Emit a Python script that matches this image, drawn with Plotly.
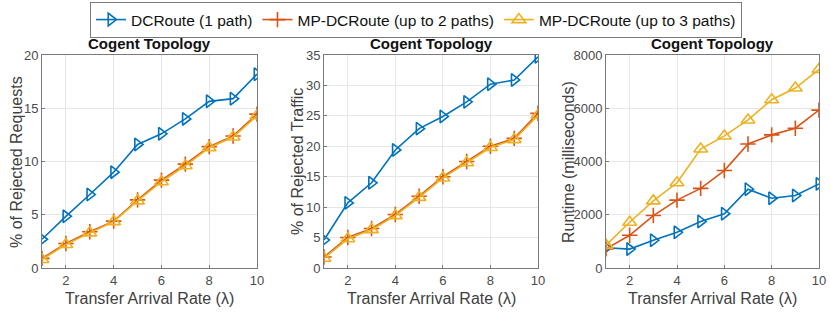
import plotly.graph_objects as go

x = [1, 2, 3, 4, 5, 6, 7, 8, 9, 10]
series_names = ["DCRoute (1 path)", "MP-DCRoute (up to 2 paths)", "MP-DCRoute (up to 3 paths)"]

req_1 = [2.7, 4.85, 6.9, 9.0, 11.6, 12.6, 14.0, 15.65, 15.9, 18.2]
req_2 = [0.9, 2.3, 3.4, 4.4, 6.4, 8.25, 9.75, 11.4, 12.4, 14.45]
req_3 = [0.8, 2.2, 3.3, 4.35, 6.3, 8.1, 9.6, 11.3, 12.3, 14.3]

traf_1 = [4.6, 10.7, 14.0, 19.4, 22.9, 24.9, 27.3, 30.2, 30.9, 34.7]
traf_2 = [1.8, 5.0, 6.5, 8.8, 11.8, 15.0, 17.5, 20.0, 21.3, 25.4]
traf_3 = [1.6, 4.8, 6.3, 8.6, 11.6, 14.8, 17.3, 19.8, 21.1, 25.1]

run_1 = [760, 710, 1040, 1340, 1750, 2040, 2960, 2620, 2720, 3160]
run_2 = [720, 1230, 1970, 2550, 2990, 3660, 4660, 5000, 5250, 5930]
run_3 = [860, 1720, 2520, 3200, 4470, 4960, 5560, 6320, 6760, 7460]

titles = ["Cogent Topology", "Cogent Topology", "Cogent Topology"]
ytitles = ["% of Rejected Requests", "% of Rejected Traffic", "Runtime (milliseconds)"]
xtitle = "Transfer Arrival Rate (λ)"
yranges = [[0, 20], [0, 35], [0, 8000]]
ydticks = [5, 5, 2000]

colors = ["#0072BD", "#D95319", "#EDB120"]
symbols = ["triangle-right-open", "cross-thin-open", "triangle-up-open"]
msizes = [11, 11, 12]

W, H = 830, 313
xdoms = [[42 / W, 257 / W], [324 / W, 538 / W], [606 / W, 819 / W]]
ydom = [45 / H, 258 / H]
ytitle_x = [16, 297, 568]

fig = go.Figure()
data = [[req_1, req_2, req_3], [traf_1, traf_2, traf_3], [run_1, run_2, run_3]]
for p in range(3):
    for s in range(3):
        fig.add_trace(go.Scatter(
            x=x, y=data[p][s], mode="lines+markers", name=series_names[s],
            showlegend=(p == 0),
            line=dict(color=colors[s], width=1.6),
            marker=dict(symbol=symbols[s], size=msizes[s], color=colors[s],
                        line=dict(color=colors[s], width=1.6)),
            xaxis="x" if p == 0 else f"x{p+1}",
            yaxis="y" if p == 0 else f"y{p+1}",
        ))

axis_common = dict(showline=True, linecolor="#7a7a7a", linewidth=1, mirror=True,
                   showgrid=True, gridcolor="#e6e6e6", gridwidth=1,
                   ticks="inside", ticklen=3, tickcolor="#7a7a7a",
                   tickfont=dict(family="Liberation Sans, Arial", size=13, color="#4a4a4a"),
                   zeroline=False, automargin=False)

layout = dict(width=W, height=H, margin=dict(l=0, r=0, t=0, b=0),
              plot_bgcolor="white", paper_bgcolor="white",
              font=dict(family="Liberation Sans, Arial", color="#404040"))
annotations = []
for p in range(3):
    xa = "xaxis" if p == 0 else f"xaxis{p+1}"
    ya = "yaxis" if p == 0 else f"yaxis{p+1}"
    layout[xa] = dict(domain=xdoms[p], range=[1, 10], tickvals=[2, 4, 6, 8, 10],
                      anchor="y" if p == 0 else f"y{p+1}", **axis_common)
    layout[ya] = dict(domain=ydom, range=yranges[p], dtick=ydticks[p], tick0=0,
                      anchor="x" if p == 0 else f"x{p+1}", **axis_common)
    cx = (xdoms[p][0] + xdoms[p][1]) / 2
    annotations.append(dict(text="<b>" + titles[p] + "</b>", x=cx, y=(H - 43) / H,
                            xref="paper", yref="paper", showarrow=False,
                            xanchor="center", yanchor="middle",
                            font=dict(size=15, color="#111111", family="Liberation Sans, Arial")))
    annotations.append(dict(text=xtitle, x=cx, y=(H - 298) / H, xref="paper", yref="paper",
                            showarrow=False, xanchor="center", yanchor="middle",
                            font=dict(size=16, color="#404040", family="Liberation Sans, Arial")))
    annotations.append(dict(text=ytitles[p], x=ytitle_x[p] / W, y=(H - 162) / H,
                            xref="paper", yref="paper", showarrow=False, textangle=-90,
                            xanchor="center", yanchor="middle",
                            font=dict(size=16, color="#404040", family="Liberation Sans, Arial")))
layout["annotations"] = annotations
layout["legend"] = dict(orientation="h", x=416 / W, xanchor="center", y=(H - 2) / H, yanchor="top",
                        bordercolor="#7a7a7a", borderwidth=1, bgcolor="white",
                        font=dict(size=15.5, color="#111111", family="Liberation Sans, Arial"),
                        itemwidth=30, tracegroupgap=0)
fig.update_layout(**layout)
fig.write_html("out.html", config={"displayModeBar": False},
               post_script="document.body.style.margin='0';")
